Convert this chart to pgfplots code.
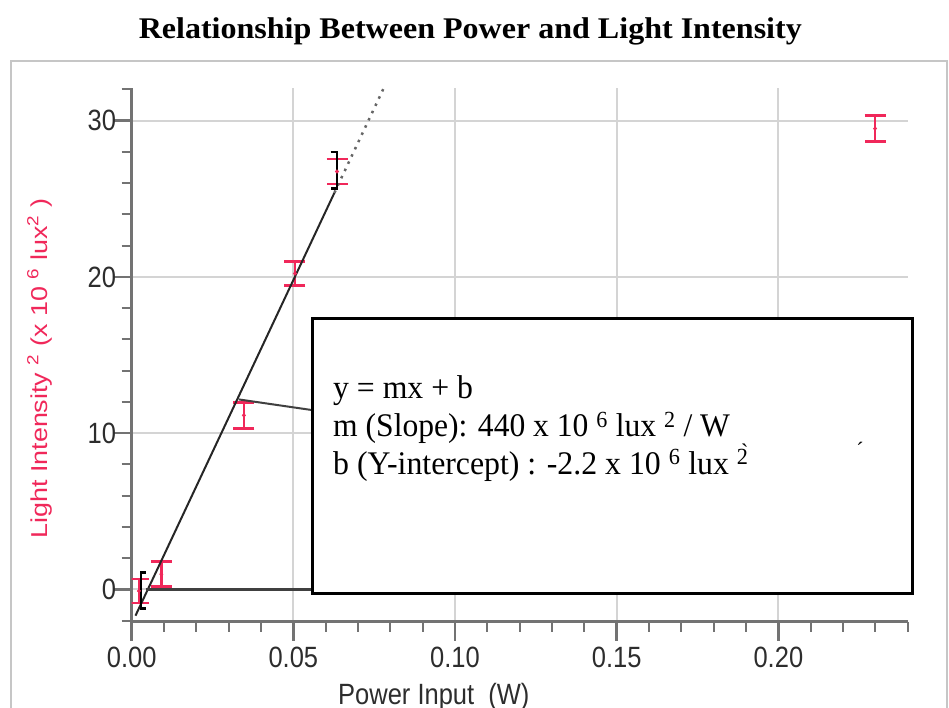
\documentclass[border=0pt]{standalone}
\usepackage{pgfplots}
\pgfplotsset{compat=1.18}
\usepackage{graphicx}
\usepackage{fontspec}
\setmainfont{Liberation Serif}
\newfontfamily\arial{Liberation Sans}
\definecolor{lpred}{RGB}{240,40,90}
\definecolor{axgray}{RGB}{115,115,115}
\definecolor{gridgray}{RGB}{212,212,212}
\definecolor{lblgray}{RGB}{45,45,45}
% labels in the reference are a little taller than the font
\newcommand\tl[1]{\scalebox{1}[1.15]{#1}}

\begin{document}
\begin{tikzpicture}[x=1pt,y=1pt]
\useasboundingbox (0,0) rectangle (949,707);

% outer frame of the graph window
\draw[gray!45, line width=2pt] (11,-20) -- (11,646) -- (946.5,646) -- (946.5,-20);

\begin{axis}[
    at={(131.7pt,85.3pt)}, anchor=south west,
    scale only axis,
    width=776pt, height=533.3pt,
    xmin=0, xmax=0.24,
    ymin=-2.07, ymax=32.07,
    axis lines=left,
    axis line style={-, axgray, line width=3pt},
    xtick={0,0.05,0.1,0.15,0.2},
    xticklabels={\tl{0.00},\tl{0.05},\tl{0.10},\tl{0.15},\tl{0.20}},
    minor xtick={0.01,0.02,0.03,0.04,0.06,0.07,0.08,0.09,0.11,0.12,0.13,0.14,0.16,0.17,0.18,0.19,0.21,0.22,0.23,0.24},
    ytick={0,10,20,30},
    yticklabels={\tl{0},\tl{10},\tl{20},\tl{30}},
    minor ytick={-2,2,4,6,8,12,14,16,18,22,24,26,28,32},
    tick align=outside,
    major tick length=19pt,
    minor tick length=10pt,
    tick style={axgray, line width=2.5pt},
    minor tick style={axgray, line width=2pt},
    grid=major,
    grid style={gridgray, line width=2pt},
    xticklabel style={font=\arial\fontsize{25.5}{25.5}\selectfont, text=lblgray, inner sep=0pt, anchor=north, yshift=-6pt},
    yticklabel style={font=\arial\fontsize{25.5}{25.5}\selectfont, text=lblgray, inner sep=0pt, anchor=east, xshift=3.5pt},
]

% measured points with error bars
\addplot[only marks, mark=*, mark size=1.8pt, lpred,
    error bars/.cd, y dir=both, y explicit,
    error bar style={line width=2.6pt, lpred},
    error mark options={rotate=90, mark size=10.5pt, line width=2.6pt, lpred}]
coordinates {
    (0.00225,-0.10) +- (0,0.77)
    (0.00917,0.97)  +- (0,0.80)
    (0.0347,11.14)  +- (0,0.83)
    (0.0505,20.22)  +- (0,0.78)
    (0.0635,26.75)  +- (0,0.80)
    (0.2299,29.50)  +- (0,0.83)
};

% linear fit, y = 440x - 2.2
\addplot[black!85, line width=2pt, mark=none] coordinates {(0.00117,-1.685) (0.0627,25.39)};
\addplot[black!60, line width=2.5pt, mark=none, dash pattern=on 2.5pt off 5.5pt] coordinates {(0.0627,25.39) (0.0782,32.2)};

% callout lines to the fit box
\addplot[darkgray, line width=2pt, mark=none] coordinates {(0.0331,12.16) (0.0557,11.48)};
\addplot[darkgray, line width=2.5pt, mark=none] coordinates {(0.0043,0) (0.0557,0)};

% fit range brackets
\addplot[black, line width=2.6pt, mark=none] coordinates {(0.0044,1.09) (0.0029,1.09) (0.0029,-1.22) (0.0044,-1.22)};
\addplot[black, line width=2.6pt, mark=none] coordinates {(0.0615,28.0) (0.0635,28.0) (0.0635,25.67) (0.0615,25.67)};
\end{axis}

% fit box
\draw[black, line width=2.5pt, fill=white] (312.3,388.7) rectangle (912.4,113.7);
\node[anchor=base west, inner sep=0] at (333,308.7)
    {\resizebox{139.7pt}{\height}{\fontsize{33}{33}\selectfont y = mx + b}};
\node[anchor=base west, inner sep=0] at (333,270.3)
    {\resizebox{396.8pt}{\height}{\fontsize{33}{33}\selectfont m (Slope): 440 x 10 \textsuperscript{6} lux \textsuperscript{2} / W}};
\node[anchor=base west, inner sep=0] at (333,233)
    {\resizebox{415.3pt}{\height}{\fontsize{33}{33}\selectfont b (Y-intercept) : -2.2 x 10 \textsuperscript{6} lux \textsuperscript{\`{2}}}};
\node[anchor=base, inner sep=0] at (860,250) {\fontsize{22}{22}\selectfont ´};

% title
\node[anchor=base, inner sep=0] at (470.3,668.7)
    {\resizebox{663pt}{\height}{\fontsize{30}{30}\selectfont\bfseries Relationship Between Power and Light Intensity}};

% axis titles
\node[rotate=90, anchor=base, inner sep=0, text=lpred] at (47.5,338.2)
    {\resizebox{339.6pt}{\height}{\arial\fontsize{23}{23}\selectfont Light Intensity \textsuperscript{2} (x 10 \textsuperscript{6} lux\textsuperscript{2} )}};
\node[anchor=base west, inner sep=0, text=lblgray] at (338,2.5)
    {\arial\fontsize{25.5}{25.5}\selectfont\tl{Power Input\ \ (W)}};
\end{tikzpicture}
\end{document}
